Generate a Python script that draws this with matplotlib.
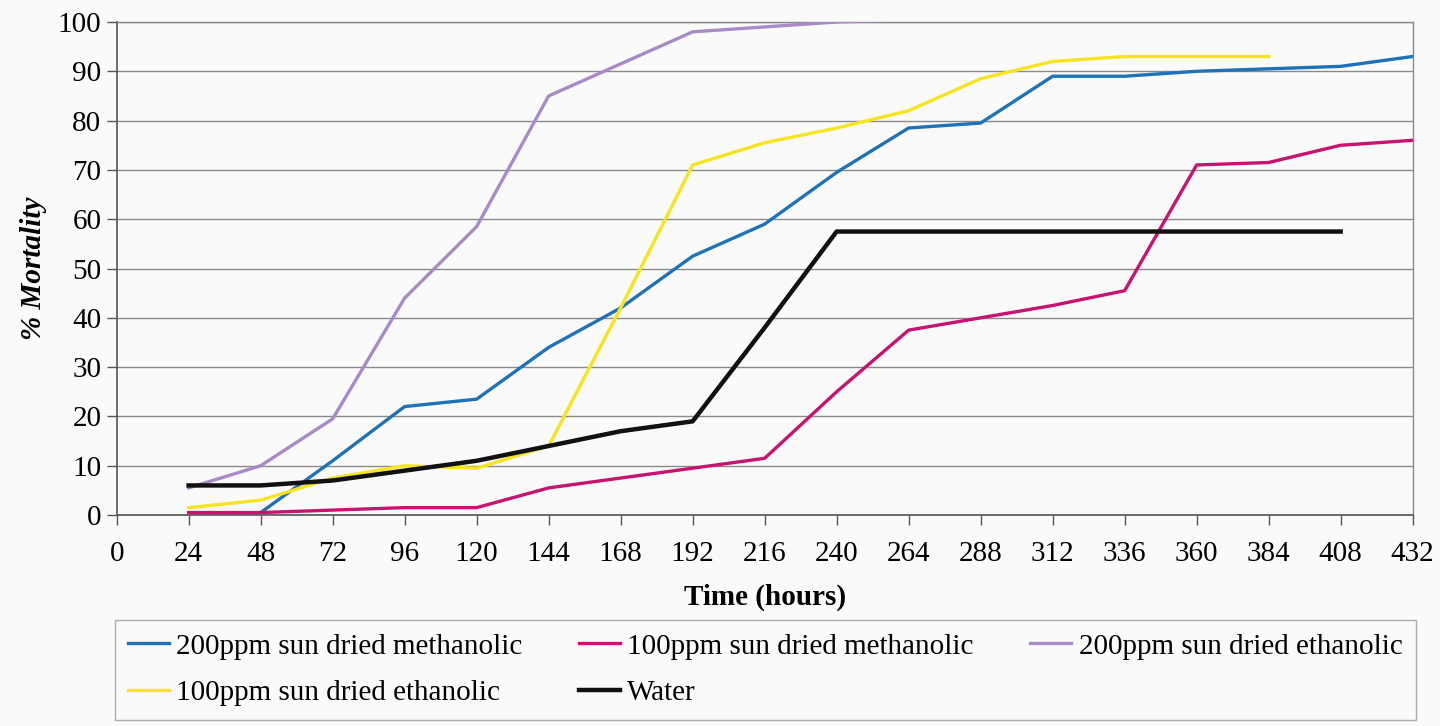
import matplotlib
matplotlib.use("Agg")
import matplotlib.pyplot as plt

hours = [24, 48, 72, 96, 120, 144, 168, 192, 216, 240, 264, 288, 312, 336, 360, 384, 408, 432]

m200_x = [48, 72, 96, 120, 144, 168, 192, 216, 240, 264, 288, 312, 336, 360, 384, 408, 432]
m200 = [0.5, 11, 22, 23.5, 34, 42, 52.5, 59, 69.5, 78.5, 79.5, 89, 89, 90, 90.5, 91, 93]

m100_x = hours
m100 = [0.5, 0.5, 1, 1.5, 1.5, 5.5, 7.5, 9.5, 11.5, 25, 37.5, 40, 42.5, 45.5, 71, 71.5, 75, 76]

e200_x = [24, 48, 72, 96, 120, 144, 168, 192, 216, 240, 264]
e200 = [5.5, 10, 19.5, 44, 58.5, 85, 91.5, 98, 99, 100, 100.5]

e100_x = [24, 48, 72, 96, 120, 144, 168, 192, 216, 240, 264, 288, 312, 336, 360, 384]
e100 = [1.5, 3, 7.5, 10, 9.5, 14, 42, 71, 75.5, 78.5, 82, 88.5, 92, 93, 93, 93]

water_x = [24, 48, 72, 96, 120, 144, 168, 192, 216, 240, 264, 288, 312, 336, 360, 384, 408]
water = [6, 6, 7, 9, 11, 14, 17, 19, 38, 57.5, 57.5, 57.5, 57.5, 57.5, 57.5, 57.5, 57.5]

labels = ["200ppm sun dried methanolic", "100ppm sun dried methanolic",
          "200ppm sun dried ethanolic", "100ppm sun dried ethanolic", "Water"]
colors = ["#1f72b8", "#c8136f", "#a88bc6", "#f6e41c", "#111111"]

xticks = list(range(0, 433, 24))
yticks = list(range(0, 101, 10))

plt.rcParams['font.family'] = ['Liberation Serif', 'DejaVu Serif']

FS = 21

fig = plt.figure(figsize=(14.4, 7.26), dpi=100)
fig.patch.set_facecolor("#fbfafb")
ax = fig.add_axes([0.081, 0.2906, 0.9, 0.6791])
ax.set_facecolor("#fbfafb")

series = [(m200_x, m200), (m100_x, m100), (e200_x, e200), (e100_x, e100), (water_x, water)]
handles = []
for (xs, ys), lab, col in zip(series, labels, colors):
    lw = 3.2 if col == "#111111" else 2.4
    h, = ax.plot(xs, ys, color=col, lw=lw, label=lab, solid_joinstyle="round", zorder=3)
    handles.append(h)

ax.set_xlim(0, 432)
ax.set_ylim(0, 100)
ax.set_xticks(xticks)
ax.set_yticks(yticks)
ax.tick_params(axis='both', labelsize=FS, direction='out', length=7, color="#555555", width=1)
ax.tick_params(axis='x', pad=12)
ax.tick_params(axis='y', pad=4)
ax.grid(axis='y', color="#8a8a8a", lw=1.0, zorder=1)
for s in ['left', 'bottom']:
    ax.spines[s].set_color("#555555")
    ax.spines[s].set_linewidth(1.2)
for s in ['right', 'top']:
    ax.spines[s].set_color("#8a8a8a")
    ax.spines[s].set_linewidth(1.0)

ax.set_xlabel("Time (hours)", fontsize=FS, fontweight='bold', labelpad=12)
ax.set_ylabel("% Mortality", fontsize=FS, fontweight='bold', fontstyle='italic', labelpad=8)

order = [0, 3, 1, 4, 2]
leg = fig.legend([handles[i] for i in order], [labels[i] for i in order],
                 loc='upper left', bbox_to_anchor=(0.08, 0.0, 0.903, 0.146),
                 mode='expand', ncol=3, fontsize=FS, frameon=True, fancybox=False,
                 edgecolor="#999999", handlelength=1.4, handletextpad=0.25,
                 borderpad=0.45, labelspacing=0.7, columnspacing=1.0,
                 borderaxespad=0.0)
leg.get_frame().set_linewidth(1.0)
leg.get_frame().set_facecolor("#fbfafb")

fig.savefig("out.png", dpi=100, facecolor=fig.get_facecolor())
